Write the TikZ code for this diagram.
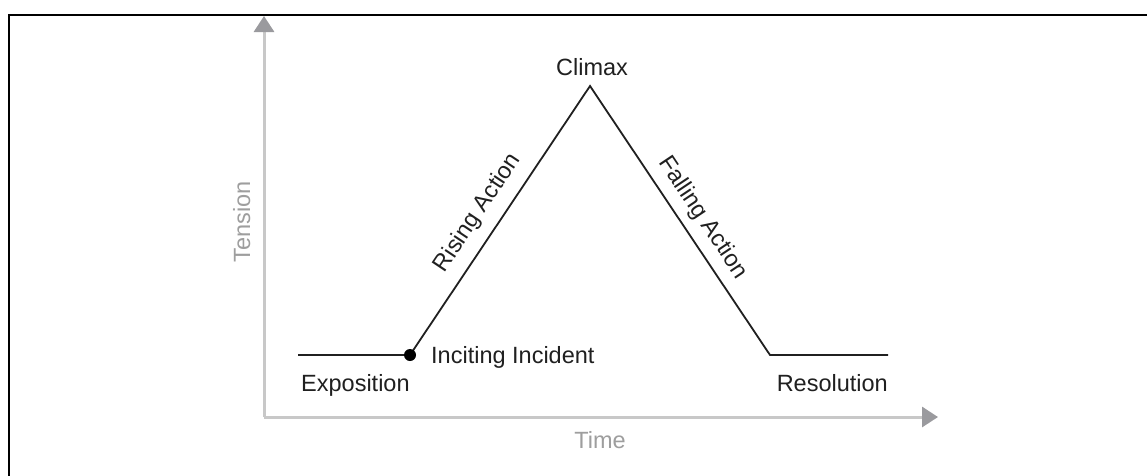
\documentclass[tikz,border=0pt]{standalone}
\usepackage{fontspec}
\setmainfont{Liberation Sans}
\usetikzlibrary{arrows.meta}
\definecolor{axisline}{HTML}{C8C8C8}
\definecolor{axishead}{HTML}{9A9A9E}
\definecolor{axistext}{HTML}{9E9E9E}
\definecolor{ink}{HTML}{202020}
\tikzset{
  axis/.style={draw=axisline, line width=3pt, -{Triangle[length=16pt, width=20pt, color=axishead]}},
  plotline/.style={draw=ink, line width=1.8pt, line join=miter},
  lbl/.style={text=ink, inner sep=0pt, font=\fontsize{23.5}{28}\selectfont},
  axlbl/.style={text=axistext, inner sep=0pt, font=\fontsize{23.5}{28}\selectfont},
}
\begin{document}
\begin{tikzpicture}[x=1pt, y=-1pt]
\useasboundingbox (0,0) rectangle (1147,475);
\fill[white] (0,0) rectangle (1147,475);
% frame
\draw[black, line width=2.2pt] (9,500) -- (9,15) -- (1170,15);
% axes
\coordinate (origin) at (264,417);
\coordinate (ytip) at (264,16);
\coordinate (xtip) at (938,417);
\draw[axis] (origin) -- (ytip);
\draw[axis] (origin) -- (xtip);
\node[axlbl, rotate=90, anchor=base] (tension) at (250,222) {Tension};
\node[axlbl, anchor=base] (time) at (600,448) {Time};
% plot
\coordinate (start) at (298,355);
\coordinate (inc) at (410,355);
\coordinate (top) at (590,86);
\coordinate (fall) at (770,355);
\coordinate (end) at (888,355);
\draw[plotline] (start) -- (inc) -- (top) -- (fall) -- (end);
\fill[black] (inc) circle (6pt);
% labels
\node[lbl, anchor=base west] (expo) at (301,391) {Exposition};
\node[lbl, anchor=base west] (incl) at (431,363) {Inciting Incident};
\node[lbl, anchor=base] (clim) at (592,75) {Climax};
\node[lbl, anchor=base east] (reso) at (888,391) {Resolution};
\node[lbl, rotate=56.2] (rise) at (478,213) {Rising Action};
\node[lbl, rotate=-56.2] (falll) at (703,218) {Falling Action};
\end{tikzpicture}
\end{document}
